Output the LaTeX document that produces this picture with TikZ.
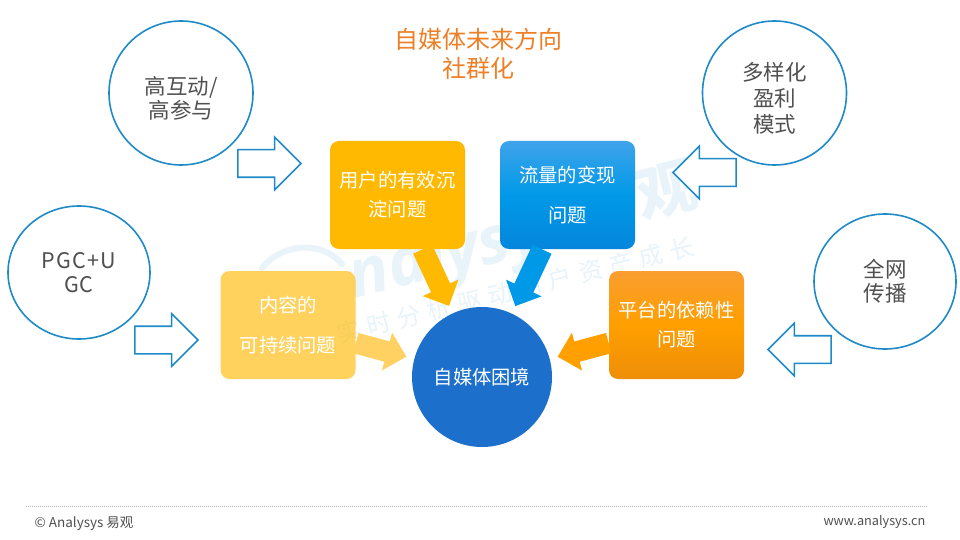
\documentclass[tikz,border=0pt]{standalone}
\usepackage{fontspec}
\setmainfont{Noto Sans CJK SC}
\setsansfont{Open Sans}
\usepackage{tikz}
\usetikzlibrary{arrows.meta}
\usetikzlibrary{shapes.arrows}
\usetikzlibrary{shapes.geometric}
\usetikzlibrary{positioning}

\definecolor{ringblue}{HTML}{1F8AC8}
\definecolor{markblue}{HTML}{E8F3FA}
\definecolor{boxamber}{HTML}{FFB900}
\definecolor{boxpale}{HTML}{FFD162}
\definecolor{hubblue}{HTML}{1C70CC}
\definecolor{titleorange}{HTML}{EE7F26}
\definecolor{inkgrey}{HTML}{505050}
\definecolor{flowtop}{HTML}{3FA3EA}
\definecolor{flowmid}{HTML}{0099E8}
\definecolor{flowlow}{HTML}{0586DC}
\definecolor{plattop}{HTML}{F99E30}
\definecolor{platmid}{HTML}{FF9F00}
\definecolor{platlow}{HTML}{EE8E08}

\begin{document}
\begin{tikzpicture}[x=1pt, y=-1pt, semithick]
            \tikzstyle{topic}=[ellipse, draw=ringblue, line width=1.6pt, minimum width=144pt, minimum height=144pt, inner sep=0pt, align=center, text=inkgrey, font=\fontsize{21.5}{24}\selectfont]
            \tikzstyle{topictext}=[yshift=-5pt, align=center, text=inkgrey]
            \tikzstyle{issue}=[rounded corners=9pt, minimum width=135pt, minimum height=108pt, inner sep=0pt, align=center, text=white, font=\fontsize{19.3}{29}\selectfont]
            \tikzstyle{wideissue}=[issue, font=\fontsize{19.3}{40}\selectfont]
            \tikzstyle{pointer}=[single arrow, draw=ringblue, line width=1.6pt, fill=white, minimum height=63pt, inner xsep=0pt, inner ysep=13pt, single arrow head extend=12.5pt, anchor=center]
            \tikzstyle{fat}=[line width=21pt, -{Triangle[length=20pt,width=38pt]}, shorten >=8pt]
            \tikzstyle{wmark}=[text=markblue, inner sep=0pt, rotate=14]

            \path[use as bounding box] (0,0) rectangle (960,540);
            \fill[white] (0,0) rectangle (960,540);

            % watermark behind everything
            \draw[markblue, line width=6pt, line cap=round] (262,268) .. controls (282,243) and (322,240) .. (342,264);
            \node[wmark] (wmname) at (462,254) {\sffamily\bfseries\itshape\fontsize{66}{66}\selectfont nalysys};
            \node[wmark] (wmcn) at (637,198) {\bfseries\fontsize{60}{60}\selectfont 易观};
            \node[wmark] (wmslogan) at (515,290) {\fontsize{24}{24}\selectfont\addfontfeature{LetterSpace=30}实时分析驱动用户资产成长};

            \node[topic] (high) at (181,93) {};
            \node[topictext, font=\fontsize{21.5}{24}\selectfont] (hightext) at (high) {高互动/\\高参与};
            \node[topic, minimum width=142pt, minimum height=133pt] (pgc) at (79,272.5) {\addfontfeature{LetterSpace=6}PGC+U\\GC};
            \node[topic] (profit) at (774.5,93) {};
            \node[topictext, font=\fontsize{21.5}{26}\selectfont] (profittext) at (profit) {多样化\\盈利\\模式};
            \node[topic, minimum width=142pt, minimum height=135pt] (net) at (885,281.5) {全网\\传播};

            \node[pointer] (pa) at (262.5,163.5) {};
            \node[pointer] (pb) at (159.5,340) {};
            \node[pointer, shape border rotate=180] (pc) at (711.5,172.5) {};
            \node[pointer, shape border rotate=180] (pd) at (806.5,349.5) {};

            \node[issue, fill=boxamber] (user) at (397.5,195) {用户的有效沉\\淀问题};
            \node[wideissue, top color=flowtop, bottom color=flowlow, middle color=flowmid] (flow) at (567.5,195) {流量的变现\\问题};
            \node[wideissue, fill=boxamber, fill opacity=.63, text opacity=1] (content) at (288,325) {内容的\\可持续问题};
            \node[issue, top color=plattop, bottom color=platlow, middle color=platmid] (plat) at (676.5,325) {平台的依赖性\\问题};
            \node[circle, fill=hubblue, minimum size=140pt, inner sep=0pt, text=white, font=\fontsize{19.3}{24}\selectfont] (hub) at (482,377) {自媒体困境};

            \draw[fat, boxamber] (user) -- (hub);
            \draw[fat, flowmid] (flow) -- (hub);
            \draw[fat, boxpale] (content) -- (hub);
            \draw[fat, platmid] (plat) -- (hub);

            \node[align=center, text=titleorange, font=\fontsize{24}{29}\selectfont] (title) at (478,54) {自媒体未来方向\\社群化};

            \coordinate (ruleleft) at (26,506);
            \coordinate (ruleright) at (928,506);
            \draw[gray!60, line width=1pt, densely dotted] (ruleleft) -- (ruleright);
            \node[anchor=west, text=inkgrey, font=\fontsize{13.5}{15}\selectfont] (copy) at (31,524) {© Analysys 易观};
            \node[anchor=east, text=inkgrey, font=\fontsize{12.7}{15}\selectfont] (site) at (929,522) {www.analysys.cn};
        \end{tikzpicture}
\end{document}
